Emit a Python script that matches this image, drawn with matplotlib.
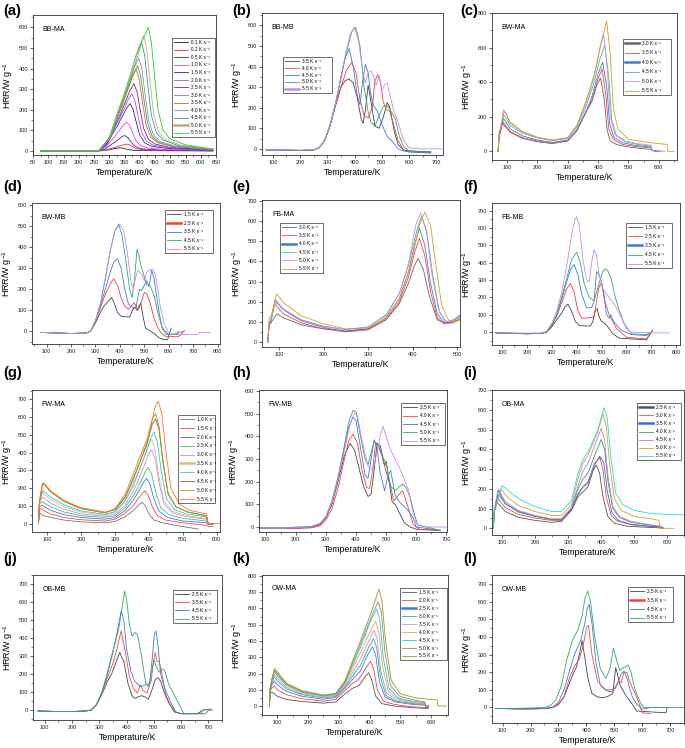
import matplotlib
matplotlib.use('Agg')
import matplotlib.pyplot as plt
from matplotlib.ticker import MultipleLocator
from matplotlib.lines import Line2D

plt.rcParams['font.family'] = ['Liberation Sans', 'DejaVu Sans']
plt.rcParams['mathtext.fontset'] = 'custom'
plt.rcParams['mathtext.rm'] = 'Liberation Sans'
plt.rcParams['mathtext.it'] = 'Liberation Sans'

# ---------------- data (Temperature/K, HRR/W g^-1) ----------------
# (a) BB-MA
a_rates = [0.1, 0.2, 0.5, 1.0, 1.5, 2.0, 2.5, 3.0, 3.5, 4.0, 4.5, 5.0, 5.5]
a_T = [
    [75,200,265,283,297,307,318,327,335,345,355,367,383,405,455,640],
    [75,200,265,288,306,320,334,346,357,367,377,389,405,427,477,640],
    [75,200,265,286,303,316,329,340,350,360,370,382,398,420,470,640],
    [75,200,265,288,306,320,334,346,357,367,377,389,405,427,477,640],
    [75,200,265,291,311,327,342,356,368,378,388,400,416,438,488,640],
    [75,200,265,292,314,330,347,361,374,384,394,406,422,444,494,640],
    [75,200,265,294,317,335,352,367,381,391,401,413,429,451,501,640],
    [75,200,265,296,320,339,357,373,388,398,408,420,436,458,508,640],
    [75,200,265,297,323,342,361,378,393,403,413,425,441,463,513,640],
    [75,200,265,298,324,344,364,381,397,407,417,429,445,467,517,640],
    [75,200,265,300,328,350,371,389,406,416,426,438,454,476,526,640],
    [75,200,265,302,332,354,376,395,413,423,433,445,461,483,533,640],
    [75,200,265,306,338,363,387,408,428,438,448,460,476,498,548,640],
]
a_H = [
    [0,0,0,2,5,8,11,13,15,13,9,5,3,2,1,0],
    [0,0,0,4,12,17,24,29,33,29,20,11,6,3,2,0],
    [0,0,0,9,27,40,54,67,75,66,46,25,13,8,4,1],
    [0,0,0,17,50,74,101,125,140,123,87,46,24,14,7,2],
    [0,0,0,28,83,122,166,205,230,202,143,76,39,23,12,3],
    [0,0,0,33,100,147,199,247,277,244,172,91,47,28,14,4],
    [0,0,0,39,117,173,235,290,326,287,202,108,55,33,16,5],
    [0,0,0,48,143,211,287,354,398,350,247,131,68,40,20,6],
    [0,0,0,50,149,219,298,368,414,364,257,137,70,41,21,6],
    [0,0,0,54,162,239,325,401,451,397,280,149,77,45,23,7],
    [0,0,0,63,190,279,379,469,527,464,327,174,90,53,26,8],
    [0,0,0,67,202,297,403,498,560,493,347,185,95,56,28,8],
    [0,0,0,72,216,318,432,534,600,528,372,198,102,60,30,9],
]

# (b) BB-MB
b_rates = [3.5, 4.0, 4.5, 5.0, 5.5]
b_T = [
    [75,150,200,250,270,290,310,330,350,365,380,395,410,425,432,440,450,460,475,490,505,520,530,545,560,580,600,680],
    [75,150,200,250,270,290,310,330,350,370,390,405,420,435,450,465,475,485,495,505,515,530,545,560,580,600,680],
    [75,150,200,250,270,290,310,330,350,365,380,395,410,420,430,440,450,460,470,485,500,520,540,560,580,600,680],
    [75,150,200,250,270,290,310,330,350,370,390,405,420,435,450,460,475,490,505,520,535,550,565,580,600,680],
    [75,150,200,250,270,290,310,330,350,370,385,400,415,430,440,450,460,470,480,490,500,510,520,530,545,560,580,600,640,720],
]
b_H = [
    [-5,-6,-8,-5,5,40,110,210,300,330,340,320,250,140,125,190,310,230,110,100,150,225,200,90,20,-5,-10,-15],
    [-5,-6,-8,-5,5,40,110,210,300,380,420,370,240,160,150,200,330,360,330,230,195,180,110,40,-5,-15,-20],
    [-5,-6,-8,-5,5,40,115,220,350,440,487,400,260,215,330,410,370,260,210,180,120,60,35,0,-10,-15,-20],
    [-5,-6,-8,-5,5,40,115,220,340,470,570,590,500,300,180,130,110,160,205,210,180,145,60,10,-10,-15],
    [-5,-5,-6,-4,5,40,115,220,350,480,560,590,520,380,320,370,380,350,310,360,280,310,320,260,180,130,40,5,0,0],
]

# (c) BW-MA
c_rates = [3.0, 3.5, 4.0, 4.5, 5.0, 5.5]
c_T = [
    [70,74,78,84,90,110,150,200,250,300,330,360,380,395,408,420,430,440,460,500,550,575,577,590],
    [70,74,78,86,92,110,150,200,250,300,330,360,380,400,413,425,435,450,480,520,575,578,600],
    [70,74,78,88,94,110,150,200,250,300,330,360,380,400,415,428,438,452,480,520,575,578,600],
    [70,74,78,88,94,110,150,200,250,300,330,360,385,405,422,435,445,460,490,530,575,578,610],
    [70,74,78,88,94,110,150,200,250,300,330,360,385,405,418,430,440,455,490,530,575,578,620],
    [70,74,78,90,96,110,150,200,250,300,330,360,390,410,428,440,450,465,500,550,600,628,630,650],
]
c_H = [
    [0,90,110,165,150,110,75,55,45,60,120,230,290,380,425,300,120,60,40,25,15,12,5,0],
    [0,95,115,170,155,115,80,60,48,62,125,230,300,420,478,330,130,70,40,28,20,5,0],
    [0,100,120,190,175,130,90,65,52,65,120,225,320,450,515,380,160,80,50,35,25,5,0],
    [0,105,125,215,200,150,105,78,62,75,140,260,390,530,615,430,180,90,55,40,30,5,0],
    [0,110,130,240,225,165,110,80,65,80,150,280,420,590,675,480,200,100,60,45,35,5,0],
    [0,115,130,230,220,170,115,82,65,78,150,290,460,630,755,560,250,130,70,55,45,40,0,0],
]

# (d) BW-MB
d_rates = [1.5, 2.5, 3.5, 4.5, 5.5]
d_T = [
    [75,150,200,260,280,300,320,335,350,365,375,390,405,420,440,455,462,470,478,485,495,505,520,540,560,580,595,610],
    [75,150,200,260,280,300,320,340,360,375,390,405,420,435,450,458,465,475,485,500,510,525,540,555,570,590,640,665],
    [75,150,200,260,280,300,320,340,360,375,390,405,420,435,450,465,480,490,500,510,520,530,540,555,570,590,630,640],
    [75,150,200,260,280,300,320,340,360,380,395,410,425,440,450,460,470,478,485,495,510,525,540,555,575,600,630,660],
    [75,150,200,260,280,300,320,340,360,380,400,415,430,445,455,465,475,490,500,510,520,535,545,555,565,580,600,620,720,725,770],
]
d_H = [
    [-5,-8,-10,-8,0,40,90,120,140,160,140,90,72,70,68,110,115,100,120,135,70,15,5,-10,-30,-40,-40,15],
    [-5,-8,-10,-8,0,50,110,175,225,250,220,160,120,105,125,135,125,100,130,185,180,130,60,20,-10,-25,-25,5],
    [-5,-8,-10,-8,0,50,120,200,280,330,345,300,200,130,115,110,200,195,220,240,215,290,250,130,30,-15,-15,0],
    [-5,-8,-10,-8,0,50,130,250,380,480,510,450,330,200,160,250,390,360,320,280,220,215,170,90,10,-15,-10,0],
    [-5,-8,-10,-8,0,50,130,250,380,480,510,480,380,240,200,260,290,270,240,280,290,295,270,200,120,40,-10,-15,-15,-5,-5],
]

# (e) FB-MA
e_rates = [3.0, 3.5, 4.0, 4.5, 5.0, 5.5]
e_T = [
    [75,78,82,95,110,150,200,250,300,340,370,390,402,412,424,437,455,470,490,506],
    [75,78,82,90,110,150,200,250,300,340,370,390,405,415,427,440,455,470,490,506],
    [75,78,82,92,110,150,200,250,300,340,370,390,405,415,427,440,455,470,490,506],
    [75,78,82,92,110,150,200,250,300,340,370,390,410,420,432,445,460,475,490,506],
    [75,78,82,92,110,150,200,250,300,340,370,390,408,418,430,442,458,472,490,506],
    [75,78,82,95,110,150,200,250,300,340,370,395,415,427,440,452,465,480,495,506],
]
e_H = [
    [0,85,95,140,120,85,65,55,65,110,190,290,370,415,360,230,110,95,100,110],
    [0,90,100,190,140,95,65,50,60,110,200,320,450,515,430,250,120,90,95,120],
    [0,95,110,210,160,105,72,52,65,120,215,345,490,565,480,290,140,95,100,135],
    [0,95,110,200,160,110,78,62,75,135,240,380,560,625,540,330,150,100,110,130],
    [0,95,110,205,165,110,78,60,72,130,240,385,590,640,560,350,160,100,105,125],
    [0,120,125,240,195,130,90,65,70,115,215,380,580,645,580,380,180,110,100,110],
]

# (f) FB-MB
f_rates = [1.5, 2.5, 3.5, 4.5, 5.5]
f_T = [
    [75,150,200,260,280,300,320,340,355,365,380,395,410,430,455,465,475,482,490,500,510,525,545,570,620,680,705],
    [75,150,200,260,280,300,320,340,360,375,390,405,420,440,460,470,480,490,497,505,515,530,545,560,600,680,705],
    [75,150,200,260,280,300,320,340,360,375,390,405,420,440,460,470,480,490,500,510,520,530,537,545,560,580,620,680,700],
    [75,150,200,260,280,300,320,340,360,380,400,415,430,450,470,490,505,515,525,540,555,570,590,620,680,700],
    [75,150,200,260,280,300,320,340,360,380,393,400,410,425,440,450,460,470,480,490,505,520,540,560,580,600,620,700,770],
]
f_H = [
    [-5,-8,-10,-8,0,30,70,110,150,160,120,60,38,35,35,60,125,135,90,60,55,30,-10,-35,-40,-45,10],
    [-5,-8,-10,-8,0,40,90,170,250,280,230,120,80,80,85,90,180,260,280,250,170,100,60,20,-30,-40,10],
    [-5,-8,-10,-8,0,40,100,190,290,360,390,330,220,140,140,180,350,330,290,200,100,80,100,70,40,10,-15,-20,0],
    [-5,-8,-10,-8,0,40,100,200,310,420,460,400,280,200,180,280,350,365,355,300,200,130,50,-10,-15,0],
    [-5,-5,-6,-5,5,50,120,230,380,560,650,665,620,420,300,290,400,475,440,330,250,220,180,140,80,20,0,-5,-5],
]

# (g) FW-MA
g_rates = [1.0, 1.5, 2.0, 2.5, 3.0, 3.5, 4.0, 4.5, 5.0, 5.5]
g_T = [
    [74,77,82,90,110,150,200,270,300,330,355,365,372,380,390,400,415,440,480,545,546],
    [74,77,84,92,110,150,200,270,300,330,355,370,380,388,398,410,425,450,500,570,575,590],
    [74,77,85,92,110,150,200,270,300,330,355,375,385,393,403,415,430,455,500,570,575,590],
    [74,77,86,92,110,150,200,270,300,330,355,380,390,398,408,420,435,460,500,570,575,590],
    [74,77,86,92,110,150,200,270,300,330,355,385,398,408,418,430,445,470,510,570,575,590],
    [74,77,86,92,110,150,200,270,300,330,355,385,398,408,418,430,445,470,510,570,575,590],
    [74,77,86,92,110,150,200,270,300,330,355,390,405,415,425,437,452,475,510,570,575,590],
    [74,77,86,92,110,150,200,270,300,330,355,395,410,420,430,442,457,480,515,570,575,590],
    [74,77,86,92,110,150,200,270,300,330,355,395,410,420,430,442,457,480,515,570,575,590],
    [74,77,86,92,110,150,200,270,300,330,355,400,417,428,438,450,465,490,520,570,575,610],
]
g_H = [
    [0,60,55,45,35,20,10,5,12,40,75,95,110,120,100,55,20,5,-10,-30,-30],
    [0,80,85,70,55,35,22,15,25,60,105,145,170,185,160,95,45,20,5,-10,-15,-15],
    [0,95,105,95,75,50,35,25,35,75,135,200,235,255,225,140,70,35,15,5,-5,-5],
    [0,110,125,115,95,65,45,35,45,90,160,250,295,315,280,180,90,50,30,15,0,0],
    [0,120,150,140,115,80,55,42,55,105,185,320,390,415,370,230,110,60,40,25,0,0],
    [0,125,175,165,135,95,65,50,65,125,215,370,445,475,420,260,125,70,45,30,0,0],
    [0,120,185,180,150,105,72,52,68,130,225,390,480,515,460,290,140,80,55,38,0,0],
    [0,125,225,220,180,125,85,62,80,150,260,450,560,590,530,340,165,95,65,45,0,0],
    [0,125,225,220,180,125,85,60,85,165,285,480,590,620,550,350,170,95,65,45,0,0],
    [0,120,230,225,185,130,90,65,78,145,250,490,650,690,620,410,200,110,75,55,0,0],
]

# (h) FW-MB
h_rates = [3.5, 4.0, 4.5, 5.0, 5.5]
h_T = [
    [75,150,200,250,280,300,320,340,360,380,395,410,425,440,450,460,470,480,490,495,500,510,520,530,545,560,580,600,680],
    [75,150,200,250,280,300,320,340,360,375,390,405,420,435,445,455,465,475,485,495,505,515,525,540,555,570,590,610,680],
    [75,150,200,250,280,300,320,340,360,375,390,400,415,430,440,450,460,470,480,495,505,515,530,545,560,575,590,600,680],
    [75,150,200,250,280,300,320,340,360,375,390,400,415,430,440,450,460,470,485,500,515,530,545,555,565,580,595,605,680],
    [75,150,200,250,280,300,320,340,360,380,395,405,420,440,455,470,480,490,500,515,530,545,560,575,590,600,610,700],
]
h_H = [
    [-5,-5,-5,-2,10,40,100,200,310,370,340,260,180,135,145,250,370,360,300,270,290,200,110,100,60,20,0,-10,-15],
    [-5,-5,-6,-4,5,30,80,170,290,380,410,370,250,175,170,250,370,360,320,270,220,180,115,140,160,100,10,-10,-15],
    [-5,-5,-3,0,15,45,110,210,340,440,485,470,350,230,215,300,385,350,240,160,220,250,140,110,90,70,40,0,-15],
    [-5,-5,0,2,15,45,115,220,350,460,515,510,400,300,275,330,375,370,320,280,180,160,180,190,175,130,50,10,-15],
    [-5,-5,-3,0,15,45,110,210,330,450,505,490,380,270,250,330,400,445,400,340,300,260,210,160,60,20,0,0],
]

# (i) OB-MA
i_rates = [2.5, 3.0, 3.5, 4.0, 4.5, 5.0, 5.5]
i_T = [
    [74,77,80,85,95,110,150,200,250,280,310,330,345,360,375,385,395,405,420,440,480,540,580,585],
    [74,77,80,88,95,110,150,200,250,280,310,330,345,360,380,395,405,415,430,450,490,540,580,585],
    [74,77,80,90,96,110,150,200,250,280,310,330,345,360,380,398,408,418,432,452,490,540,585,590],
    [74,77,80,88,95,110,150,200,250,280,310,330,345,360,385,400,410,420,435,455,490,540,580,585],
    [74,77,80,88,95,110,150,200,250,280,310,330,345,360,385,400,410,420,435,455,490,540,580,585],
    [74,77,82,95,102,115,150,200,250,280,310,330,345,360,390,405,415,425,440,460,500,560,575,577,620],
    [74,77,84,100,110,130,160,200,250,280,310,330,345,360,390,408,418,428,443,465,500,550,600,650],
]
i_H = [
    [0,90,100,130,115,85,55,40,30,35,90,160,185,210,290,320,280,160,60,25,10,5,2,0],
    [0,80,100,150,135,105,70,52,40,40,95,170,210,225,320,365,300,160,65,35,18,10,5,0],
    [0,95,115,195,170,125,82,60,45,45,95,175,210,235,330,360,330,190,80,40,20,12,5,0],
    [0,90,110,170,160,125,85,62,45,45,100,200,250,280,390,450,400,240,100,55,30,18,10,0],
    [0,95,120,195,180,135,90,65,48,48,105,215,290,330,440,505,450,270,110,60,35,20,10,0],
    [0,95,110,195,190,160,115,85,65,65,120,250,330,370,490,580,520,330,150,90,60,45,40,0,0],
    [0,95,120,215,205,175,140,110,85,85,140,280,350,385,500,610,560,380,180,120,90,75,70,68],
]

# (j) OB-MB
j_rates = [2.5, 3.5, 4.5, 5.5]
j_T = [
    [75,150,200,250,270,290,310,330,345,360,375,390,405,420,430,445,455,465,480,495,505,515,525,540,555,575,600,660,680,710],
    [75,150,200,250,270,290,310,330,350,365,380,395,410,425,440,450,460,475,490,500,505,512,520,530,545,560,580,600,670,680],
    [75,150,200,250,270,290,310,330,350,365,380,390,400,415,430,450,470,485,495,502,508,515,525,540,560,580,600,680],
    [75,150,200,250,270,290,310,330,350,370,385,393,400,410,420,430,440,455,470,480,490,500,510,520,530,540,555,570,590,610,690,700,715],
]
j_H = [
    [-5,-8,-8,-5,0,30,90,160,200,260,320,270,150,80,65,75,80,75,60,120,170,180,160,90,40,-10,-20,-20,0,5],
    [-5,-8,-8,-5,0,30,95,180,260,340,440,330,190,120,95,140,110,95,160,280,320,270,270,200,80,30,-10,-20,-20,0],
    [-5,-8,-8,-5,0,30,100,200,320,430,550,500,340,220,160,130,140,150,300,420,440,360,200,120,50,-10,-20,-20],
    [-5,-8,-8,-5,0,30,100,210,330,440,580,660,620,480,410,430,420,300,150,130,200,280,240,210,230,220,140,100,40,-20,-20,0,0],
]

# (k) OW-MA
k_rates = [1.5, 2.0, 2.5, 3.0, 3.5, 4.0, 4.5, 5.0, 5.5]
k_T = [
    [74,77,82,88,100,130,180,250,290,320,345,365,385,397,407,420,440,480,540,590,592],
    [74,77,82,90,100,130,180,250,290,320,345,365,390,403,413,425,445,480,540,590,592],
    [74,77,82,90,100,130,180,250,290,320,345,370,395,410,420,432,450,485,540,580,582,590],
    [74,77,82,90,100,130,180,250,290,320,345,370,398,413,423,435,453,485,540,580,582,590],
    [74,77,82,90,100,130,180,250,290,320,345,370,400,415,425,437,455,488,540,580,582,590],
    [74,77,82,90,100,130,180,250,290,320,345,370,405,420,430,442,460,490,540,580,582,590],
    [74,77,82,90,100,130,180,250,290,320,345,370,405,423,433,445,463,493,540,580,582,590],
    [74,77,82,90,100,130,180,250,290,320,345,370,410,428,438,450,468,498,540,580,582,590],
    [74,77,82,92,100,130,180,250,290,320,345,370,410,430,440,452,470,500,550,600,620,622,650],
]
k_H = [
    [0,80,85,80,60,40,28,18,25,75,110,125,180,205,160,60,15,0,-10,-15,0],
    [0,95,110,125,100,70,45,30,40,95,140,165,240,275,230,100,30,10,-5,-10,0],
    [0,100,130,155,130,90,60,42,52,110,165,215,320,365,310,150,55,25,10,5,0,0],
    [0,105,140,180,155,105,70,50,60,120,185,250,365,415,360,180,65,30,15,10,0,0],
    [0,110,150,195,170,115,75,55,65,130,205,290,410,465,410,210,80,38,20,12,0,0],
    [0,110,155,210,185,125,82,60,70,140,230,330,470,520,460,250,95,45,25,15,0,0],
    [0,115,160,215,190,130,85,62,72,145,250,360,530,595,530,290,110,50,30,20,0,0],
    [0,115,165,225,200,135,90,65,75,150,265,380,570,640,580,330,125,60,40,25,0,0],
    [0,115,165,230,210,140,95,68,78,155,280,400,600,720,650,400,160,75,50,40,38,0,0],
]

# (l) OW-MB
l_rates = [2.5, 3.5, 4.5, 5.5]
l_T = [
    [75,150,200,250,280,300,320,340,355,365,375,385,395,405,420,440,460,480,495,500,505,510,520,530,545,560,580,630,685,690],
    [75,150,200,250,280,300,320,340,360,375,390,400,408,420,440,460,480,495,505,515,525,535,545,555,565,575,590,600,630],
    [75,150,200,250,280,300,320,340,360,380,395,403,410,420,435,450,470,490,505,515,525,535,545,555,565,580,600,630,690],
    [75,150,200,250,270,290,310,330,350,370,385,395,405,415,430,450,470,485,497,510,520,530,540,550,560,575,590,605,640,750],
]
l_H = [
    [-5,-8,-8,-6,0,20,60,140,200,230,300,380,280,170,80,60,55,65,80,150,225,200,130,100,60,30,-20,-25,-30,0],
    [-5,-8,-8,-6,0,15,60,170,240,275,360,450,465,300,150,110,90,90,120,150,140,200,200,150,110,80,20,-30,-35],
    [-5,-8,-8,-6,2,30,100,210,310,380,480,560,585,480,250,130,100,100,110,150,190,205,170,110,60,20,-10,0,0],
    [-5,-5,-3,0,10,40,120,270,380,440,520,620,660,600,400,220,165,220,335,260,210,225,230,240,200,100,40,0,0,0],
]

# ---------------- styles / layout ----------------
W, H = 685, 748
C5 = ['#444444', '#ff3b3b', '#3a7ae8', '#2eaa66', '#c888ee']
C6 = ['#666666', '#ff4040', '#3a7ae8', '#40c080', '#cc88ee', '#d4a020']
C4 = ['#444444', '#ff4040', '#3a7ae8', '#2eaa66']

panels = [
    dict(tag='(a)', name='BB-MA', rates=a_rates, T=a_T, Hh=a_H, box=(33, 15, 216, 155),
         xlim=(50, 650), ylim=(-20, 660), xs=50, ys=100, lab=(3, 4), leg=(0.76, 0.13, 0.235, 0.706),
         colors=['#222222', '#ff2a2a', '#2a2aff', '#ff33ff', '#2a2a99', '#a050ff', '#8a1a8a',
                 '#b07070', '#8a8a00', '#6a9ae0', '#2a9a9a', '#c8aa7a', '#2ecc2e'], thick=[11]),
    dict(tag='(b)', name='BB-MB', rates=b_rates, T=b_T, Hh=b_H, box=(262, 13, 443, 155),
         xlim=(60, 725), ylim=(-30, 660), xs=100, ys=100, lab=(232, 4), leg=(0.116, 0.437, 0.271, 0.253),
         colors=C5, thick=[4]),
    dict(tag='(c)', name='BW-MA', rates=c_rates, T=c_T, Hh=c_H, box=(492, 13, 677, 160),
         xlim=(50, 660), ylim=(-50, 800), xs=100, ys=200, lab=(460, 4), leg=(0.708, 0.442, 0.26, 0.381),
         colors=C6, thick=[0, 2]),
    dict(tag='(d)', name='BW-MB', rates=d_rates, T=d_T, Hh=d_H, box=(32, 203, 220, 344),
         xlim=(40, 810), ylim=(-60, 610), xs=100, ys=100, lab=(3, 180), leg=(0.707, 0.645, 0.256, 0.305),
         colors=C5, thick=[1]),
    dict(tag='(e)', name='FB-MA', rates=e_rates, T=e_T, Hh=e_H, box=(262, 200, 460, 347),
         xlim=(62, 506), ylim=(-25, 705), xs=100, ys=100, lab=(232, 180), leg=(0.09, 0.503, 0.22, 0.341),
         colors=C6, thick=[2]),
    dict(tag='(f)', name='FB-MB', rates=f_rates, T=f_T, Hh=f_H, box=(492, 203, 680, 345),
         xlim=(60, 815), ylim=(-75, 745), xs=100, ys=100, lab=(463, 180), leg=(0.713, 0.542, 0.244, 0.318),
         colors=C5, thick=[2]),
    dict(tag='(g)', name='FW-MA', rates=g_rates, T=g_T, Hh=g_H, box=(32, 390, 220, 532),
         xlim=(55, 610), ylim=(-47, 753), xs=100, ys=100, lab=(3, 366), leg=(0.777, 0.204, 0.196, 0.62),
         colors=['#777777', '#ff4444', '#3a7ae8', '#44bb77', '#cc88ee', '#d8bc80', '#22cccc',
                 '#8e5a5a', '#a0a000', '#ff7030'], thick=[5]),
    dict(tag='(h)', name='FW-MB', rates=h_rates, T=h_T, Hh=h_H, box=(259, 390, 447, 532),
         xlim=(78, 702), ylim=(-22, 605), xs=100, ys=100, lab=(232, 366), leg=(0.755, 0.613, 0.234, 0.295),
         colors=C5, thick=[]),
    dict(tag='(i)', name='OB-MA', rates=i_rates, T=i_T, Hh=i_H, box=(492, 390, 684, 535),
         xlim=(70, 650), ylim=(-34, 700), xs=100, ys=100, lab=(463, 366), leg=(0.755, 0.517, 0.229, 0.393),
         colors=['#555555', '#ff4040', '#3a6ad8', '#2ea060', '#bb77ee', '#d8a020', '#22dddd'], thick=[0, 2]),
    dict(tag='(j)', name='OB-MB', rates=j_rates, T=j_T, Hh=j_H, box=(33, 575, 222, 720),
         xlim=(57, 750), ylim=(-55, 750), xs=100, ys=100, lab=(3, 552), leg=(0.74, 0.669, 0.234, 0.228),
         colors=C4, thick=[]),
    dict(tag='(k)', name='OW-MA', rates=k_rates, T=k_T, Hh=k_H, box=(262, 575, 448, 715),
         xlim=(50, 655), ylim=(-55, 806), xs=100, ys=100, lab=(232, 552), leg=(0.742, 0.393, 0.253, 0.514),
         colors=['#555555', '#ff4040', '#3a7ae8', '#33aa77', '#cc88ee', '#d8b040', '#22cccc',
                 '#a08080', '#999922'], thick=[2]),
    dict(tag='(l)', name='OW-MB', rates=l_rates, T=l_T, Hh=l_H, box=(492, 575, 684, 723),
         xlim=(62, 750), ylim=(-88, 751), xs=100, ys=100, lab=(463, 552), leg=(0.708, 0.682, 0.235, 0.237),
         colors=C4, thick=[1]),
]

fig = plt.figure(figsize=(W / 100, H / 100), dpi=100)
LEG_FS = 3.4
for p in panels:
    l, t, r, b = p['box']
    ax = fig.add_axes([l / W, 1 - b / H, (r - l) / W, (b - t) / H])
    for k, rate in enumerate(p['rates']):
        ax.plot(p['T'][k], p['Hh'][k], color=p['colors'][k], lw=0.6, solid_joinstyle='round')
    ax.set_xlim(*p['xlim'])
    ax.set_ylim(*p['ylim'])
    ax.xaxis.set_major_locator(MultipleLocator(p['xs']))
    ax.xaxis.set_minor_locator(MultipleLocator(p['xs'] / 2))
    ax.yaxis.set_major_locator(MultipleLocator(p['ys']))
    ax.yaxis.set_minor_locator(MultipleLocator(p['ys'] / 2))
    ax.tick_params(which='major', direction='out', length=2.0, width=0.5, labelsize=4.0, pad=1.5,
                   colors='#222222')
    ax.tick_params(which='minor', direction='out', length=1.2, width=0.4, colors='#222222')
    for s in ax.spines.values():
        s.set_linewidth(0.6)
        s.set_color('#333333')
    ax.set_xlabel('Temperature/K', fontsize=6.3, labelpad=2.5)
    ax.set_ylabel('HRR/W g$^{-1}$', fontsize=6.5, labelpad=2.5)
    ax.text(0.05, 0.9, p['name'], transform=ax.transAxes, fontsize=5, va='center', ha='left')
    fig.text(p['lab'][0] / W, 1 - p['lab'][1] / H, p['tag'], fontsize=10.5, fontweight='bold',
             va='top', ha='left')
    # legend
    handles = [Line2D([], [], color=p['colors'][k], lw=(1.8 if k in p['thick'] else 0.6))
               for k in range(len(p['rates']))]
    labels = ['%.1f K s\u207b\u00b9' % r_ for r_ in p['rates']]
    lx, ly, lw_, lh = p['leg']
    n = len(labels)
    fs_px = LEG_FS * 100 / 72
    h_px = lh * (b - t)
    spacing = max(0.05, (h_px - 0.8 * fs_px - n * 1.05 * fs_px) / ((n - 1) * fs_px))
    leg = ax.legend(handles, labels, loc='upper left', bbox_to_anchor=(lx, ly, lw_, lh), mode='expand',
                    fontsize=LEG_FS, frameon=True, fancybox=False, edgecolor='#333333', framealpha=1,
                    borderpad=0.4, labelspacing=spacing, handlelength=3.0, handletextpad=0.6,
                    borderaxespad=0)
    leg.get_frame().set_linewidth(0.5)

fig.savefig('out.png', dpi=100)
